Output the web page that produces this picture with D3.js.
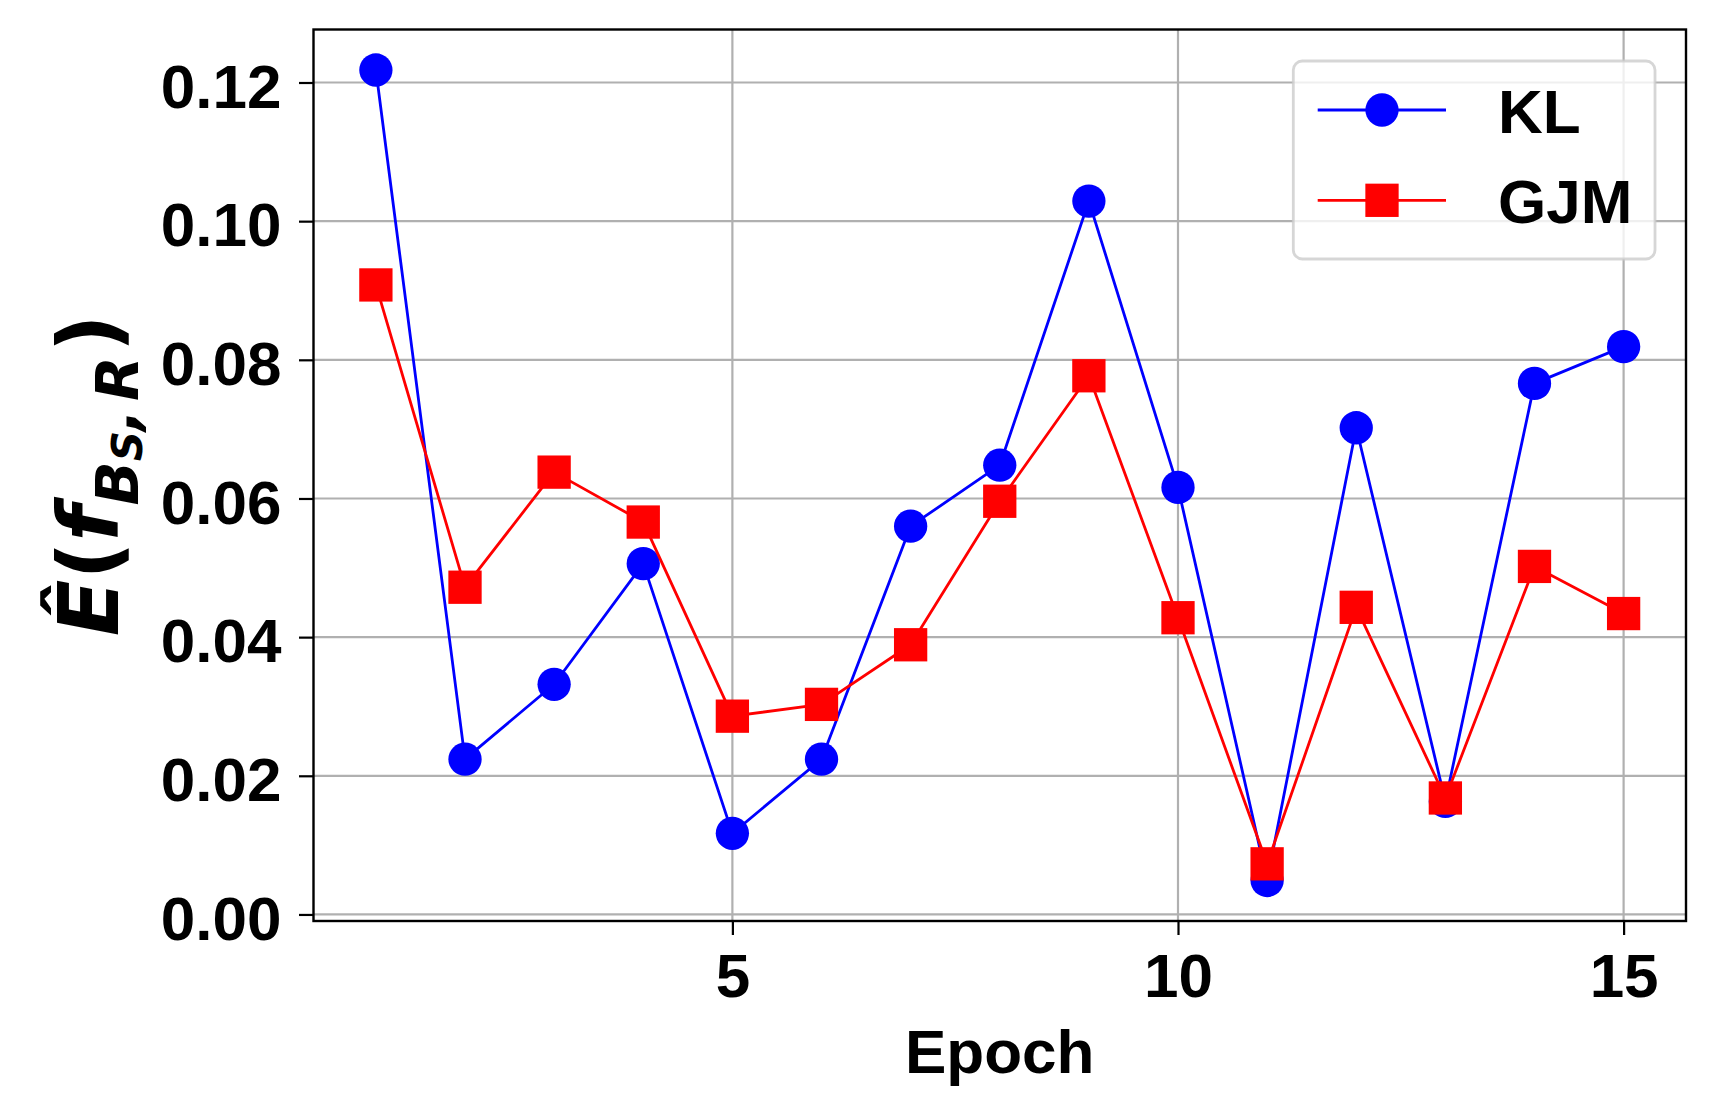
<!DOCTYPE html>
<html>
<head>
<meta charset="utf-8">
<script src="https://cdn.jsdelivr.net/npm/d3@7"></script>
<style>
  html, body { margin: 0; padding: 0; background: #fff; }
  svg { display: block; }
</style>
</head>
<body>
<svg id="chart" width="1715" height="1115"></svg>
<script>
// ---- data ----
const epochs = [1, 2, 3, 4, 5, 6, 7, 8, 9, 10, 11, 12, 13, 14, 15];
const klValues = [0.1218, 0.0224, 0.0332, 0.0506, 0.0117, 0.0224, 0.0560, 0.0648, 0.1029, 0.0616, 0.0049, 0.0702, 0.0163, 0.0766, 0.0819];
const gjmValues = [0.0908, 0.0472, 0.0638, 0.0566, 0.0286, 0.0303, 0.0389, 0.0596, 0.0777, 0.0428, 0.0073, 0.0443, 0.0168, 0.0502, 0.0434];
const seriesNames = ["KL", "GJM"];
const xTicks = [5, 10, 15];
const yTicks = [0.00, 0.02, 0.04, 0.06, 0.08, 0.10, 0.12];
const xLabel = "Epoch";

// ---- layout ----
const W = 1715, H = 1115;
const plot = { left: 313.5, right: 1686, top: 29.5, bottom: 921 };
const FONT = "'Liberation Sans', Arial, Helvetica, sans-serif";
const FS = 62;

const svg = d3.select("#chart");

// matplotlib-like 5% margins
const xMin = d3.min(epochs), xMax = d3.max(epochs);
const xPad = (xMax - xMin) * 0.05;
const allY = klValues.concat(gjmValues);
const yMin = d3.min(allY), yMax = d3.max(allY);
const yPad = (yMax - yMin) * 0.05;

const x = d3.scaleLinear().domain([xMin - xPad, xMax + xPad]).range([plot.left, plot.right]);
const y = d3.scaleLinear().domain([yMin - yPad, yMax + yPad]).range([plot.bottom, plot.top]);

// background
svg.append("rect").attr("x", 0).attr("y", 0).attr("width", W).attr("height", H).attr("fill", "#fff");

// grid
const grid = svg.append("g").attr("class", "grid");
grid.selectAll("line.h").data(yTicks).join("line")
  .attr("x1", plot.left).attr("x2", plot.right)
  .attr("y1", d => y(d)).attr("y2", d => y(d))
  .attr("stroke", "#b0b0b0").attr("stroke-width", 2.2);
grid.selectAll("line.v").data(xTicks).join("line")
  .attr("y1", plot.top).attr("y2", plot.bottom)
  .attr("x1", d => x(d)).attr("x2", d => x(d))
  .attr("stroke", "#b0b0b0").attr("stroke-width", 2.2);

// series
const series = [
  { name: seriesNames[0], values: klValues, color: "#0000ff", marker: "circle" },
  { name: seriesNames[1], values: gjmValues, color: "#ff0000", marker: "square" }
];
const MS = 33.3;
const line = d3.line().x((d, i) => x(epochs[i])).y(d => y(d));

function drawMarker(g, type, cx, cy, color) {
  if (type === "circle") {
    g.append("circle").attr("cx", cx).attr("cy", cy).attr("r", MS / 2).attr("fill", color);
  } else {
    g.append("rect").attr("x", cx - MS / 2).attr("y", cy - MS / 2)
      .attr("width", MS).attr("height", MS).attr("fill", color);
  }
}

series.forEach(s => {
  const g = svg.append("g");
  g.append("path").datum(s.values).attr("d", line)
    .attr("fill", "none").attr("stroke", s.color).attr("stroke-width", 2.8)
    .attr("stroke-linejoin", "round");
  s.values.forEach((v, i) => drawMarker(g, s.marker, x(epochs[i]), y(v), s.color));
});

// axes
const yAxis = d3.axisLeft(y).tickValues(yTicks).tickFormat(d3.format(".2f"))
  .tickSize(14.5).tickSizeOuter(0).tickPadding(17.5);
const gy = svg.append("g").attr("transform", `translate(${plot.left},0)`).call(yAxis);
gy.select(".domain").remove();
gy.selectAll(".tick line").attr("stroke", "#000").attr("stroke-width", 2.2);
gy.selectAll(".tick text").attr("font-family", FONT).attr("font-weight", "bold")
  .attr("font-size", FS).attr("fill", "#000").attr("dy", "0.4em");

const xAxis = d3.axisBottom(x).tickValues(xTicks).tickFormat(d3.format("d"))
  .tickSize(14).tickSizeOuter(0).tickPadding(18.3);
const gx = svg.append("g").attr("transform", `translate(0,${plot.bottom})`).call(xAxis);
gx.select(".domain").remove();
gx.selectAll(".tick line").attr("stroke", "#000").attr("stroke-width", 2.2);
gx.selectAll(".tick text").attr("font-family", FONT).attr("font-weight", "bold")
  .attr("font-size", FS).attr("fill", "#000");

// spines
svg.append("rect")
  .attr("x", plot.left).attr("y", plot.top)
  .attr("width", plot.right - plot.left).attr("height", plot.bottom - plot.top)
  .attr("fill", "none").attr("stroke", "#000").attr("stroke-width", 2.4);

// x label
svg.append("text").attr("x", (plot.left + plot.right) / 2).attr("y", 1073.3)
  .attr("text-anchor", "middle").attr("font-family", FONT).attr("font-weight", "bold")
  .attr("font-size", FS).attr("fill", "#000").text(xLabel);

// y label  (Ê(f_{B_S, R}))
const YFONT = "'DejaVu Sans', sans-serif";
const yl = svg.append("text")
  .attr("transform", `translate(117.7,${(plot.top + plot.bottom) / 2}) rotate(-90)`)
  .attr("text-anchor", "middle").attr("font-family", YFONT)
  .attr("font-weight", "bold").attr("font-style", "italic").attr("fill", "#000");
const main = 83, sub = 58, subsub = 42;
yl.append("tspan").attr("font-size", main).text("Ê");
yl.append("tspan").attr("font-size", main).attr("font-style", "normal").text("(");
yl.append("tspan").attr("font-size", main).text("f");
yl.append("tspan").attr("font-size", sub).attr("dy", 20).text("B");
yl.append("tspan").attr("font-size", subsub).attr("dy", 4).attr("font-style", "italic").text("S");
yl.append("tspan").attr("font-size", sub).attr("dy", -4).text(",");
yl.append("tspan").attr("font-size", sub).attr("dx", 8).text("R");
yl.append("tspan").attr("font-size", main).attr("font-style", "normal").attr("dy", -20).attr("dx", 4).text(")");

// legend
const lg = svg.append("g");
lg.append("rect").attr("x", 1293.3).attr("y", 61).attr("width", 361.7).attr("height", 198)
  .attr("rx", 9).attr("ry", 9)
  .attr("fill", "#fff").attr("fill-opacity", 0.8)
  .attr("stroke", "#cccccc").attr("stroke-opacity", 0.8).attr("stroke-width", 2.8);
const legendRows = [110, 200.3];
series.forEach((s, i) => {
  const ly = legendRows[i];
  lg.append("line").attr("x1", 1317.7).attr("x2", 1446).attr("y1", ly).attr("y2", ly)
    .attr("stroke", s.color).attr("stroke-width", 2.8);
  drawMarker(lg, s.marker, 1382, ly, s.color);
  lg.append("text").attr("x", 1498).attr("y", ly + 22.5)
    .attr("font-family", FONT).attr("font-weight", "bold").attr("font-size", FS)
    .attr("fill", "#000").text(s.name);
});
</script>
</body>
</html>
